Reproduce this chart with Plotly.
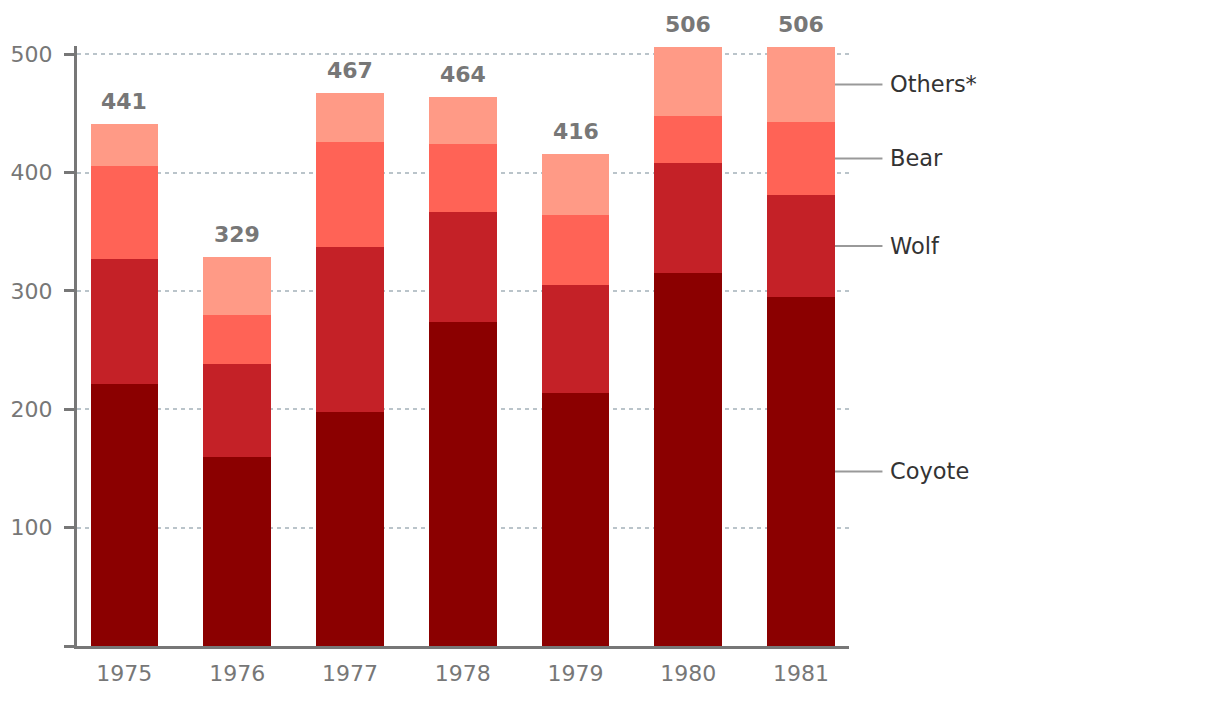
import plotly.graph_objects as go

years = ["1975", "1976", "1977", "1978", "1979", "1980", "1981"]
coyote = [221, 160, 198, 274, 214, 315, 295]
wolf = [106, 78, 139, 93, 91, 93, 86]
bear = [79, 42, 89, 57, 59, 40, 62]
others = [35, 49, 41, 40, 52, 58, 63]
totals = [441, 329, 467, 464, 416, 506, 506]

series = [
    ("Coyote", coyote, "#8B0000"),
    ("Wolf", wolf, "#C42127"),
    ("Bear", bear, "#FF6356"),
    ("Others*", others, "#FF9A86"),
]

fig = go.Figure()
for name, vals, col in series:
    fig.add_trace(go.Bar(x=years, y=vals, name=name, marker=dict(color=col, line=dict(width=0))))

W, H = 1220, 702
L, T = 76.5, 46
R = W - 849.5
B = H - 646.3
pw = W - L - R

# totals above bars
for i, tot in enumerate(totals):
    fig.add_annotation(xref="x", yref="y", x=i, y=tot, text="<b>%d</b>" % tot,
                       showarrow=False, yanchor="bottom", yshift=8,
                       font=dict(family="DejaVu Sans", size=22, color="#777777"))

# right-side labels at midpoints of last bar
cum = 0
last = len(years) - 1
for name, vals, col in series:
    mid = cum + vals[last] / 2
    cum += vals[last]
    fig.add_shape(type="line", xref="paper", yref="y",
                  x0=(835.5 - L) / pw, x1=(883 - L) / pw, y0=mid, y1=mid,
                  line=dict(color="#999999", width=2))
    fig.add_annotation(xref="paper", yref="y", x=(889 - L) / pw, y=mid, text=name,
                       showarrow=False, xanchor="left", yanchor="middle",
                       font=dict(family="DejaVu Sans", size=22.5, color="#333333"))

fig.update_layout(
    barmode="stack", bargap=0.4, showlegend=False,
    width=W, height=H, margin=dict(l=L, r=R, t=T, b=B),
    plot_bgcolor="white", paper_bgcolor="white",
    font=dict(family="DejaVu Sans", size=22, color="#777777"),
)
fig.update_xaxes(type="category", range=[-0.42, 6.425], showgrid=False,
                 showline=True, linecolor="#777777", linewidth=3, ticks="",
                 ticklabelstandoff=6,
                 tickfont=dict(size=22, color="#777777"))
fig.update_yaxes(range=[0, 507], tickvals=[0, 100, 200, 300, 400, 500],
                 ticktext=["", "100", "200", "300", "400", "500"],
                 showline=True, linecolor="#777777", linewidth=3,
                 ticks="outside", ticklen=10, tickwidth=3, tickcolor="#777777",
                 ticklabelstandoff=7,
                 showgrid=True, gridcolor="#BAC4CA", griddash="4px,4px", gridwidth=1.5,
                 zeroline=False, tickfont=dict(size=22, color="#777777"))

fig.write_html("out.html")
